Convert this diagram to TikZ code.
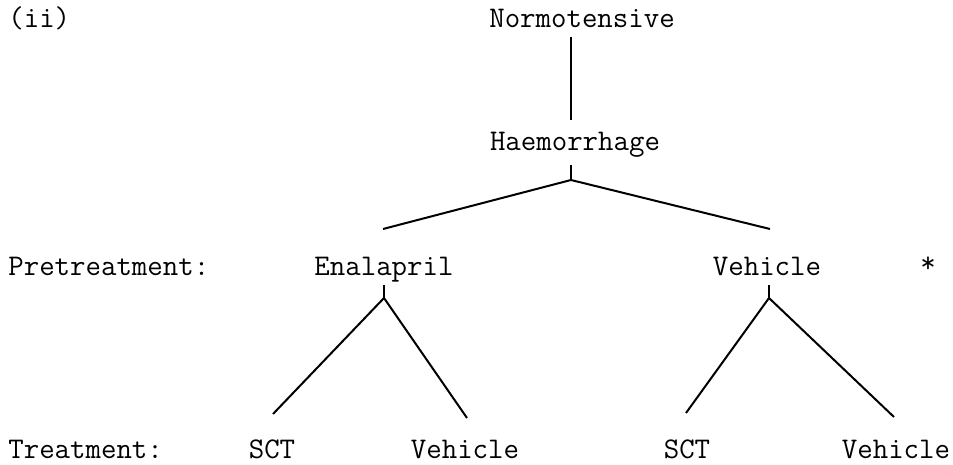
\documentclass[tikz,border=0pt]{standalone}
\usepackage{tikz}
\tikzset{label/.style={font=\fontsize{15}{18}\selectfont\ttfamily, inner sep=0pt, anchor=base},
         row/.style={label, anchor=base west},
         branch/.style={line width=1pt}}

\begin{document}
\begin{tikzpicture}[x=0.5pt, y=-0.5pt]
  \useasboundingbox (0,0) rectangle (953,465);
  % text
  \node[row]   (ii)    at (8,28)    {(ii)};
  \node[label] (norm)  at (582,28)  {Normotensive};
  \node[label] (haem)  at (575,150) {Haemorrhage};
  \node[row]   (pre)   at (8,275)   {Pretreatment:};
  \node[label] (enal)  at (384,275) {Enalapril};
  \node[label] (veh)   at (767,275) {Vehicle};
  \node[label] (star)  at (928,272) {*};
  \node[row]   (treat) at (8,458)   {Treatment:};
  \node[label] (esct)  at (272,458) {SCT};
  \node[label] (eveh)  at (465,458) {Vehicle};
  \node[label] (vsct)  at (687,458) {SCT};
  \node[label] (vveh)  at (896,458) {Vehicle};
  % line ends
  \coordinate (norm-b) at (571,37);
  \coordinate (haem-t) at (571,120);
  \coordinate (haem-b) at (571,165);
  \coordinate (haem-f) at (571,180);
  \coordinate (enal-t) at (383,229);
  \coordinate (veh-t)  at (770,229);
  \coordinate (enal-b) at (384,285);
  \coordinate (enal-f) at (384,298);
  \coordinate (veh-b)  at (769,285);
  \coordinate (veh-f)  at (769,298);
  \coordinate (esct-t) at (273,414);
  \coordinate (eveh-t) at (467,418);
  \coordinate (vsct-t) at (686,413);
  \coordinate (vveh-t) at (894,417);
  % tree
  \draw[branch] (norm-b) -- (haem-t);
  \draw[branch] (haem-b) -- (haem-f);
  \draw[branch] (enal-t) -- (haem-f) -- (veh-t);
  \draw[branch] (enal-b) -- (enal-f);
  \draw[branch] (esct-t) -- (enal-f) -- (eveh-t);
  \draw[branch] (veh-b) -- (veh-f);
  \draw[branch] (vsct-t) -- (veh-f) -- (vveh-t);
\end{tikzpicture}
\end{document}
